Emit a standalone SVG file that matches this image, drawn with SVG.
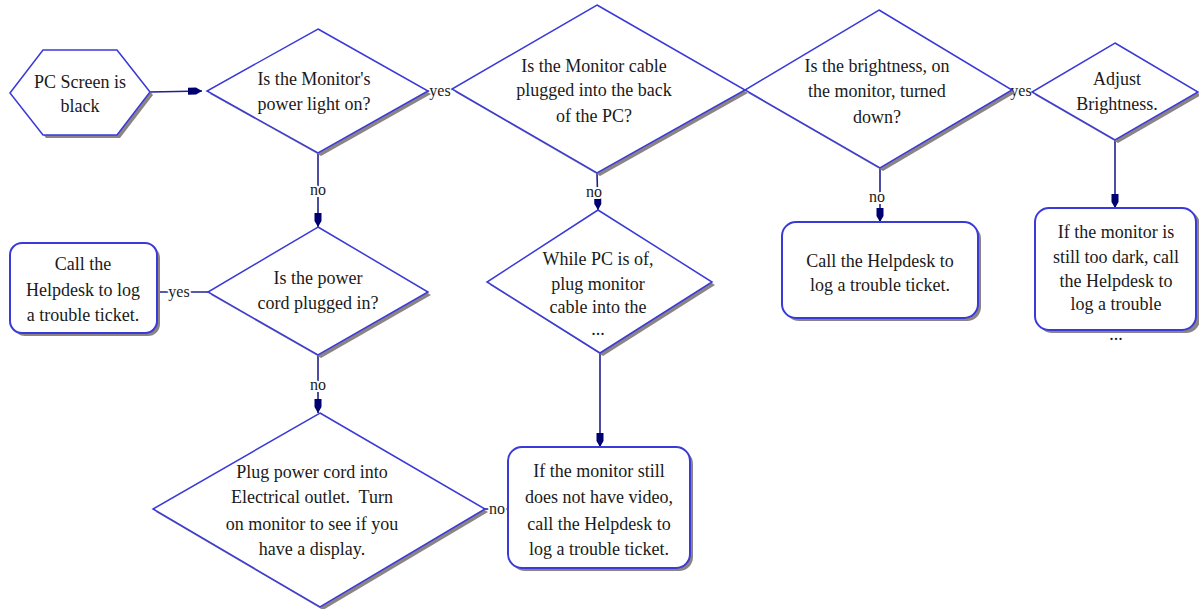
<svg xmlns="http://www.w3.org/2000/svg" width="1199" height="609" viewBox="0 0 1199 609">
<style>
.bg{fill:#ffffff}
.sh{fill:#8c8484}
.nd{fill:#ffffff;stroke:#3a3ad8;stroke-width:1.5}
.bx{fill:#ffffff;stroke:#3a3ad8;stroke-width:2}
.cn{fill:none;stroke:#202090;stroke-width:1.6}
.t{font-family:'Liberation Serif','DejaVu Serif',serif;font-size:18px;fill:#1a1a1a;text-anchor:middle}
.lb{font-family:'Liberation Serif','DejaVu Serif',serif;font-size:16px;fill:#1a1a1a;text-anchor:middle;stroke:#ffffff;stroke-width:4;paint-order:stroke}
</style>
<defs>
<marker id="ah" markerUnits="userSpaceOnUse" markerWidth="16" markerHeight="10" refX="14" refY="5" orient="auto">
<path d="M0,1.5 L8,1.5 L14,5 L8,8.5 L0,8.5 z" fill="#000070"/>
</marker>
</defs>
<rect class="bg" x="0" y="0" width="1199" height="609"/>
<g id="connectors">
<line class="cn" x1="150" y1="92" x2="202" y2="91" marker-end="url(#ah)"/>
<line class="cn" x1="428" y1="91" x2="452" y2="90"/>
<text class="lb" x="440" y="96">yes</text>
<line class="cn" x1="1012" y1="91" x2="1032" y2="91"/>
<text class="lb" x="1021" y="96">yes</text>
<line class="cn" x1="318" y1="153" x2="318" y2="227" marker-end="url(#ah)"/>
<text class="lb" x="318" y="195">no</text>
<line class="cn" x1="208" y1="292" x2="157" y2="292"/>
<text class="lb" x="179" y="297">yes</text>
<line class="cn" x1="318" y1="355" x2="318" y2="413" marker-end="url(#ah)"/>
<text class="lb" x="318" y="390">no</text>
<line class="cn" x1="485" y1="509" x2="508" y2="509"/>
<text class="lb" x="497" y="514">no</text>
<line class="cn" x1="597" y1="173" x2="598" y2="210" marker-end="url(#ah)"/>
<text class="lb" x="594" y="197">no</text>
<line class="cn" x1="600" y1="353" x2="600" y2="447" marker-end="url(#ah)"/>
<line class="cn" x1="880" y1="168" x2="880" y2="222" marker-end="url(#ah)"/>
<text class="lb" x="877" y="202">no</text>
<line class="cn" x1="1115" y1="140" x2="1115" y2="208" marker-end="url(#ah)"/>
</g>
<g id="n-start">
<polygon class="sh" points="13,96 46,53 120,53 153,95 120,138 46,138"/>
<polygon class="nd" points="10,93 43,50 117,50 150,92 117,135 43,135"/>
<text class="t" x="80" y="88">PC Screen is</text>
<text class="t" x="80" y="112">black</text>
</g>
<g id="n-power-light">
<polygon class="sh" points="321,32 431,94 321,156 210,94"/>
<polygon class="nd" points="318,29 428,91 318,153 207,91"/>
<text class="t" x="314" y="85">Is the Monitor's</text>
<text class="t" x="314" y="110">power light on?</text>
</g>
<g id="n-cable">
<polygon class="sh" points="600,8 748,93 600,176 455,92"/>
<polygon class="nd" points="597,5 745,90 597,173 452,89"/>
<text class="t" x="594" y="72">Is the Monitor cable</text>
<text class="t" x="594" y="96">plugged into the back</text>
<text class="t" x="594" y="122">of the PC?</text>
</g>
<g id="n-brightness">
<polygon class="sh" points="882,13 1015,93 883,171 748,93"/>
<polygon class="nd" points="879,10 1012,90 880,168 745,90"/>
<text class="t" x="877" y="72">Is the brightness, on</text>
<text class="t" x="877" y="97">the monitor, turned</text>
<text class="t" x="877" y="123">down?</text>
</g>
<g id="n-adjust">
<polygon class="sh" points="1118,46 1201,95 1118,143 1035,95"/>
<polygon class="nd" points="1115,43 1198,92 1115,140 1032,92"/>
<text class="t" x="1117" y="85">Adjust</text>
<text class="t" x="1117" y="110">Brightness.</text>
</g>
<g id="n-cord">
<polygon class="sh" points="321,230 431,295 321,358 211,295"/>
<polygon class="nd" points="318,227 428,292 318,355 208,292"/>
<text class="t" x="318" y="284">Is the power</text>
<text class="t" x="318" y="309">cord plugged in?</text>
</g>
<g id="n-help-left">
<rect class="sh" x="13" y="246" width="147" height="90" rx="12"/>
<rect class="bx" x="10" y="243" width="147" height="90" rx="12"/>
<text class="t" x="83" y="270">Call the</text>
<text class="t" x="83" y="296">Helpdesk to log</text>
<text class="t" x="83" y="321">a trouble ticket.</text>
</g>
<g id="n-plug-power">
<polygon class="sh" points="323,416 488,512 323,610 156,512"/>
<polygon class="nd" points="320,413 485,509 320,607 153,509"/>
<text class="t" x="312" y="478">Plug power cord into</text>
<text class="t" x="312" y="503">Electrical outlet.&#160; Turn</text>
<text class="t" x="312" y="530">on monitor to see if you</text>
<text class="t" x="312" y="555">have a display.</text>
</g>
<g id="n-plug-cable">
<polygon class="sh" points="601,213 715,285 603,356 490,285"/>
<polygon class="nd" points="598,210 712,282 600,353 487,282"/>
<text class="t" x="598" y="265">While PC is of,</text>
<text class="t" x="598" y="290">plug monitor</text>
<text class="t" x="598" y="313">cable into the</text>
<text class="t" x="598" y="335">...</text>
</g>
<g id="n-help-video">
<rect class="sh" x="511" y="450" width="182" height="121" rx="14"/>
<rect class="bx" x="508" y="447" width="182" height="121" rx="14"/>
<text class="t" x="599" y="477">If the monitor still</text>
<text class="t" x="599" y="503">does not have video,</text>
<text class="t" x="599" y="530">call the Helpdesk to</text>
<text class="t" x="599" y="555">log a trouble ticket.</text>
</g>
<g id="n-help-right">
<rect class="sh" x="785" y="225" width="196" height="96" rx="14"/>
<rect class="bx" x="782" y="222" width="196" height="96" rx="14"/>
<text class="t" x="880" y="267">Call the Helpdesk to</text>
<text class="t" x="880" y="291">log a trouble ticket.</text>
</g>
<g id="n-help-dark">
<rect class="sh" x="1038" y="211" width="162" height="122" rx="14"/>
<rect class="bx" x="1035" y="208" width="161" height="122" rx="14"/>
<text class="t" x="1116" y="238">If the monitor is</text>
<text class="t" x="1116" y="263">still too dark, call</text>
<text class="t" x="1116" y="287">the Helpdesk to</text>
<text class="t" x="1116" y="310">log a trouble</text>
<text class="t" x="1116" y="340">...</text>
</g>
</svg>
